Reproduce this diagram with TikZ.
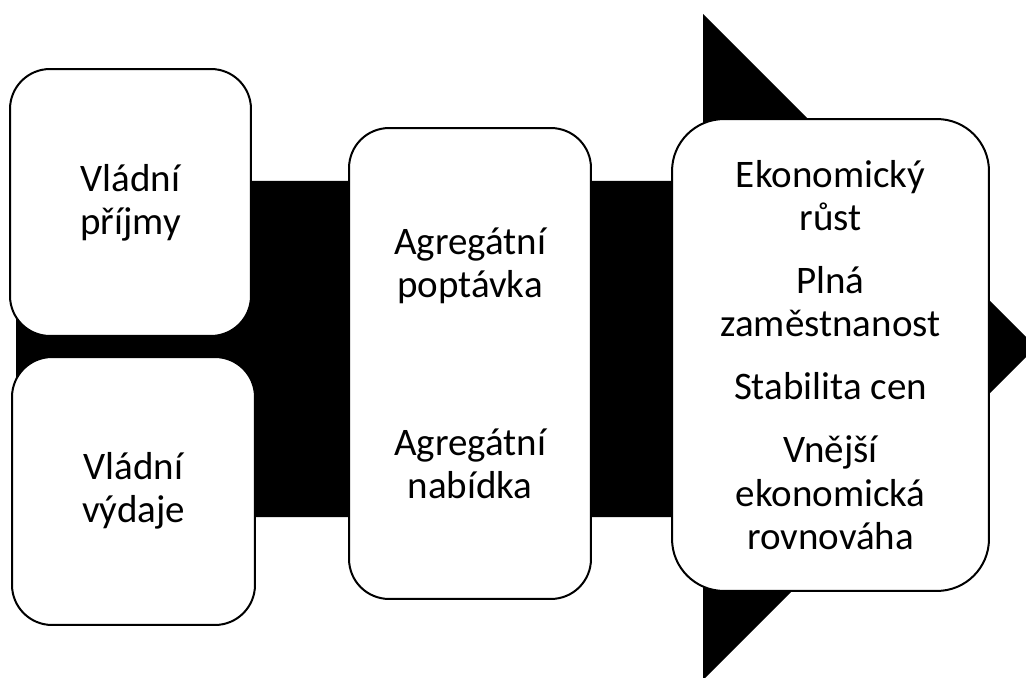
\documentclass[tikz,border=0pt]{standalone}
\usepackage{fontspec}
\setmainfont{Carlito}
\usepackage{tikz}
\usetikzlibrary{calc}
\tikzset{fpbox/.style={draw=black, fill=white, line width=0.04cm, align=center, inner sep=0pt}}
\tikzset{fptxt/.style={font=\fontsize{22.2pt}{24.5pt}\selectfont}}

\begin{document}
\begin{tikzpicture}[x=0.02cm, y=-0.02cm]
                        \useasboundingbox (0, 0) rectangle (1026, 678);
                        \clip (0, 0) rectangle (1026, 678);

                        % big background arrow
                        \fill[black] (16, 181) -- (703, 181) -- (703, 14) -- (1036, 347)
                            -- (703, 680) -- (703, 517) -- (16, 517) -- cycle;

                        \node[fpbox, fptxt, rounded corners=0.8cm, minimum width=4.82cm, minimum height=5.34cm]
                            (vp) at (130.5, 202.5) {Vládní\\příjmy};
                        \node[fpbox, fptxt, rounded corners=0.8cm, minimum width=4.86cm, minimum height=5.36cm]
                            (vv) at (133.5, 491) {Vládní\\výdaje};
                        \node[fpbox, fptxt, rounded corners=0.8cm, minimum width=4.84cm, minimum height=9.42cm]
                            (ag) at (470, 363.5) {Agregátní\\poptávka\\[2.3cm]Agregátní\\nabídka};
                        \node[fpbox, fptxt, rounded corners=1.04cm, minimum width=6.34cm, minimum height=9.44cm]
                            (cile) at (830.5, 355) {Ekonomický\\růst\\[0.4cm]Plná\\zaměstnanost\\[0.4cm]Stabilita cen\\[0.4cm]Vnější\\ekonomická\\rovnováha};
                    \end{tikzpicture}
\end{document}
